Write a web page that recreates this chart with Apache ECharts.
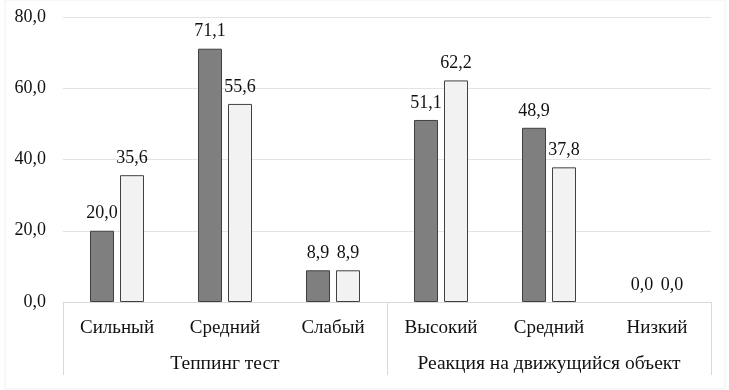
<!DOCTYPE html>
<html>
<head>
<meta charset="utf-8">
<script src="https://cdn.jsdelivr.net/npm/echarts@6/dist/echarts.min.js"></script>
<style>
  html, body { margin: 0; padding: 0; background: #fff; }
  #chart { width: 729px; height: 390px; }
</style>
</head>
<body>
<div id="chart"></div>
<script>
  // categories
  var levels = ['Сильный', 'Средний', 'Слабый', 'Высокий', 'Средний', 'Низкий'];
  var groups = ['Теппинг тест', 'Реакция на движущийся объект'];
  // two series
  var seriesA = [20.0, 71.1, 8.9, 51.1, 48.9, 0.0];
  var seriesB = [35.6, 55.6, 8.9, 62.2, 37.8, 0.0];

  var font = '"Liberation Serif", "Times New Roman", serif';
  var fmt = function (v) { return v.toFixed(1).replace('.', ','); };

  // zero bars have no visible outline in the original
  function toItems(arr) {
    return arr.map(function (v) {
      return v === 0 ? { value: v, itemStyle: { borderWidth: 0 } } : v;
    });
  }

  var chart = echarts.init(document.getElementById('chart'));
  chart.setOption({
    animation: false,
    backgroundColor: '#fff',
    grid: { left: 63, right: 18, top: 17, bottom: 88 },
    graphic: [{
      type: 'rect',
      shape: { x: 5, y: 0, width: 720, height: 389 },
      style: { fill: 'none', stroke: '#f0f0f0', lineWidth: 1 },
      silent: true
    }],
    xAxis: [{
      type: 'category',
      data: levels,
      axisLine: { lineStyle: { color: '#d9d9d9' } },
      axisTick: { show: false },
      axisLabel: { interval: 0, color: '#111', fontFamily: font, fontSize: 19, margin: 17 }
    }, {
      type: 'category',
      data: groups,
      position: 'bottom',
      axisLine: { show: false },
      axisTick: { show: true, interval: 0, length: 73, lineStyle: { color: '#d9d9d9' } },
      axisLabel: { interval: 0, color: '#111', fontFamily: font, fontSize: 19.5, margin: 52 }
    }],
    yAxis: {
      type: 'value',
      min: 0,
      max: 80,
      interval: 20,
      axisLine: { show: false },
      axisTick: { show: false },
      splitLine: { lineStyle: { color: '#e3e3e3' } },
      axisLabel: { color: '#111', fontFamily: font, fontSize: 18, margin: 17, formatter: fmt }
    },
    series: [{
      type: 'bar',
      data: toItems(seriesA),
      barWidth: 24,
      barGap: '25%',
      itemStyle: { color: '#7f7f7f', borderColor: '#404040', borderWidth: 1 },
      label: {
        show: true, position: 'top', distance: 8,
        fontFamily: font, fontSize: 18, color: '#111',
        formatter: function (p) { return fmt(p.value); }
      }
    }, {
      type: 'bar',
      data: toItems(seriesB),
      barWidth: 24,
      itemStyle: { color: '#f2f2f2', borderColor: '#404040', borderWidth: 1 },
      label: {
        show: true, position: 'top', distance: 8,
        fontFamily: font, fontSize: 18, color: '#111',
        formatter: function (p) { return fmt(p.value); }
      }
    }]
  });
</script>
</body>
</html>
